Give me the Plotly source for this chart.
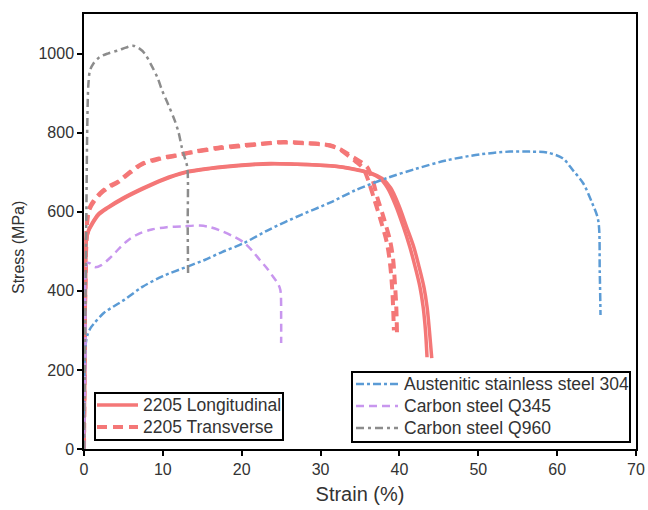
import plotly.graph_objects as go

# ---- data (strain %, stress MPa) ----
q960_x = [0, 0.15, 0.3, 0.42, 0.55, 0.76, 1.2, 2.0, 3.0, 4.35, 5.3, 6.2, 7.0, 7.7, 8.5, 9.3, 9.9, 10.7, 11.5, 12.0, 12.4, 12.8, 13.1, 13.15, 13.2]
q960_y = [0, 300, 600, 820, 920, 957, 975, 991, 1000, 1008, 1015, 1020, 1013, 1000, 972, 940, 907, 870, 831, 800, 763, 735, 712, 560, 440]

q345_x = [0, 0.2, 0.4, 0.7, 1.4, 2.2, 3.4, 4.5, 5.6, 6.8, 8.6, 10.5, 12.4, 14.7, 16.0, 17.2, 18.7, 20.2, 21.3, 22.3, 23.2, 24.0, 24.6, 24.9, 25.0, 25.0]
q345_y = [0, 250, 470, 470, 460, 465, 485, 508, 528, 543, 555, 561, 563, 565, 561, 553, 540, 523, 502, 478, 457, 435, 418, 402, 330, 268]

ss304_x = [0, 0.2, 0.5, 0.9, 1.3, 2.5, 3.8, 5.1, 7.4, 10, 13.2, 15.3, 17.5, 20.2, 23.5, 27.4, 31.2, 34.5, 38.4, 42, 46.0, 50.2, 54, 56.5, 58.7, 60.7, 62.0, 63.3, 64.4, 65.2, 65.4, 65.5]
ss304_y = [0, 263, 292, 308, 318, 344, 361, 377, 410, 437, 462, 478, 498, 520, 555, 591, 623, 655, 685, 708, 730, 745, 752, 752, 750, 735, 705, 672, 624, 579, 450, 339]

long1_x = [0, 0.2, 0.3, 0.6, 1.0, 1.8, 3.0, 5, 7.4, 10, 12.8, 16, 20, 23.6, 27, 31.2, 34, 36.3, 37.5, 38.5, 39.5, 40.5, 41.3, 42.0, 42.6, 43.0, 43.3, 43.5]
long1_y = [0, 450, 530, 555, 570, 594, 611, 635, 659, 682, 700, 710, 718, 722, 720, 716, 708, 697, 685, 660, 617, 562, 512, 460, 410, 360, 300, 232]
long2_x = [0, 0.2, 0.3, 0.6, 1.0, 1.8, 3.0, 5, 7.4, 10, 12.8, 16, 20, 23.6, 27, 31.2, 34, 36.5, 37.8, 38.9, 39.9, 40.9, 41.8, 42.5, 43.1, 43.5, 43.8, 44.1]
long2_y = [0, 450, 528, 552, 567, 591, 609, 633, 657, 680, 699, 709, 717, 721, 720, 716, 709, 697, 684, 660, 617, 562, 512, 460, 410, 360, 300, 230]

trans1_x = [0, 0.2, 0.5, 0.75, 1.3, 2.2, 3.2, 4.3, 5.8, 7.4, 9.5, 11.5, 14, 17, 20, 22.5, 24.9, 28, 31.2, 32.5, 33.7, 34.8, 35.9, 36.6, 37.2, 38.0, 38.8, 39.2, 39.4, 39.6, 39.7]
trans1_y = [0, 450, 596, 612, 630, 650, 665, 676, 700, 722, 735, 742, 752, 762, 768, 772, 776, 774, 768, 758, 743, 730, 713, 680, 636, 585, 528, 480, 427, 360, 283]
trans2_x = [0, 0.2, 0.5, 0.75, 1.3, 2.2, 3.2, 4.3, 5.8, 7.4, 9.5, 11.5, 14, 17, 20, 22.5, 24.9, 28, 31.2, 32.5, 33.5, 34.4, 35.4, 36.1, 36.8, 37.6, 38.4, 38.8, 39.1, 39.3]
trans2_y = [0, 450, 592, 608, 627, 647, 662, 674, 698, 720, 733, 741, 751, 760, 766, 771, 775, 773, 767, 757, 742, 728, 710, 676, 632, 580, 522, 470, 400, 300]

x_ticks = [0, 10, 20, 30, 40, 50, 60, 70]
y_ticks = [0, 200, 400, 600, 800, 1000]

legend1_names = ["2205 Longitudinal", "2205 Transverse"]
legend2_names = ["Austenitic stainless steel 304", "Carbon steel Q345", "Carbon steel Q960"]

RED = "#F47777"
BLUE = "#5B9BD5"
PURPLE = "#C896EE"
GRAY = "#8C8C8C"
FONT = "Liberation Sans, Arial, sans-serif"
TXT = "#333333"

STY_LONG = dict(color=RED, width=3.5, dash="solid")
STY_TRANS = dict(color=RED, width=4, dash="10px,6px")
STY_304 = dict(color=BLUE, width=2.5, dash="8px,3px,3px,3px")
STY_Q345 = dict(color=PURPLE, width=2.5, dash="8px,5px")
STY_Q960 = dict(color=GRAY, width=2.5, dash="8px,4px,3px,4px")

fig = go.Figure()

def add(x, y, name, sty):
    fig.add_trace(go.Scatter(x=x, y=y, mode="lines", name=name, showlegend=False,
                             line=dict(shape="spline", smoothing=0.9, **sty)))

add(long1_x, long1_y, legend1_names[0], STY_LONG)
add(long2_x, long2_y, legend1_names[0], STY_LONG)
add(trans1_x, trans1_y, legend1_names[1], STY_TRANS)
add(trans2_x, trans2_y, legend1_names[1], STY_TRANS)
add(ss304_x, ss304_y, legend2_names[0], STY_304)
add(q345_x, q345_y, legend2_names[1], STY_Q345)
add(q960_x, q960_y, legend2_names[2], STY_Q960)

# ---- legend boxes (drawn in paper coordinates; plot area 84..636 x 14..449 px) ----
PX0, PX1, PY0, PY1 = 84, 636, 449, 14
def px(x):
    return (x - PX0) / (PX1 - PX0)
def py(y):
    return (PY0 - y) / (PY0 - PY1)

shapes = []
annotations = []

def legend_box(x0, y0, x1, y1, names, styles, first_y, step, sym_x0, sym_x1, text_x):
    shapes.append(dict(type="rect", xref="paper", yref="paper", x0=px(x0), x1=px(x1),
                       y0=py(y1), y1=py(y0), line=dict(color="black", width=2),
                       fillcolor="white", layer="above"))
    for i, (nm, st) in enumerate(zip(names, styles)):
        yy = first_y + i * step
        shapes.append(dict(type="line", xref="paper", yref="paper", x0=px(sym_x0), x1=px(sym_x1),
                           y0=py(yy), y1=py(yy), layer="above",
                           line=dict(color=st["color"], width=st["width"], dash=st["dash"])))
        annotations.append(dict(xref="paper", yref="paper", x=px(text_x), y=py(yy), text=nm,
                                showarrow=False, xanchor="left", yanchor="middle",
                                font=dict(family=FONT, size=17.5, color=TXT)))

legend_box(95, 393, 283, 440, legend1_names, [STY_LONG, STY_TRANS], 405, 22, 97, 138, 141)
legend_box(352, 372, 630, 442, legend2_names, [STY_304, STY_Q345, STY_Q960], 384, 22, 356, 398, 402)

# y-axis title
annotations.append(dict(xref="paper", yref="paper", x=px(19), y=py(248), text="Stress (MPa)",
                        textangle=-90, showarrow=False, xanchor="center", yanchor="middle",
                        font=dict(family=FONT, size=16, color=TXT)))

axis_common = dict(showgrid=False, zeroline=False, showline=True, linecolor="black",
                   linewidth=1.5, mirror=True, ticks="outside", ticklen=5, tickwidth=1.5,
                   tickcolor="black", automargin=False,
                   tickfont=dict(family=FONT, size=16, color=TXT))

fig.update_xaxes(range=[0, 70], tickvals=x_ticks,
                 title=dict(text="Strain (%)", font=dict(family=FONT, size=20, color=TXT), standoff=10),
                 **axis_common)
fig.update_yaxes(range=[0, 1100], tickvals=y_ticks, **axis_common)

fig.update_layout(
    width=648, height=510,
    margin=dict(l=84, r=12, t=14, b=61),
    plot_bgcolor="white", paper_bgcolor="white",
    showlegend=False,
    shapes=shapes, annotations=annotations,
)

fig.write_html("out.html")
